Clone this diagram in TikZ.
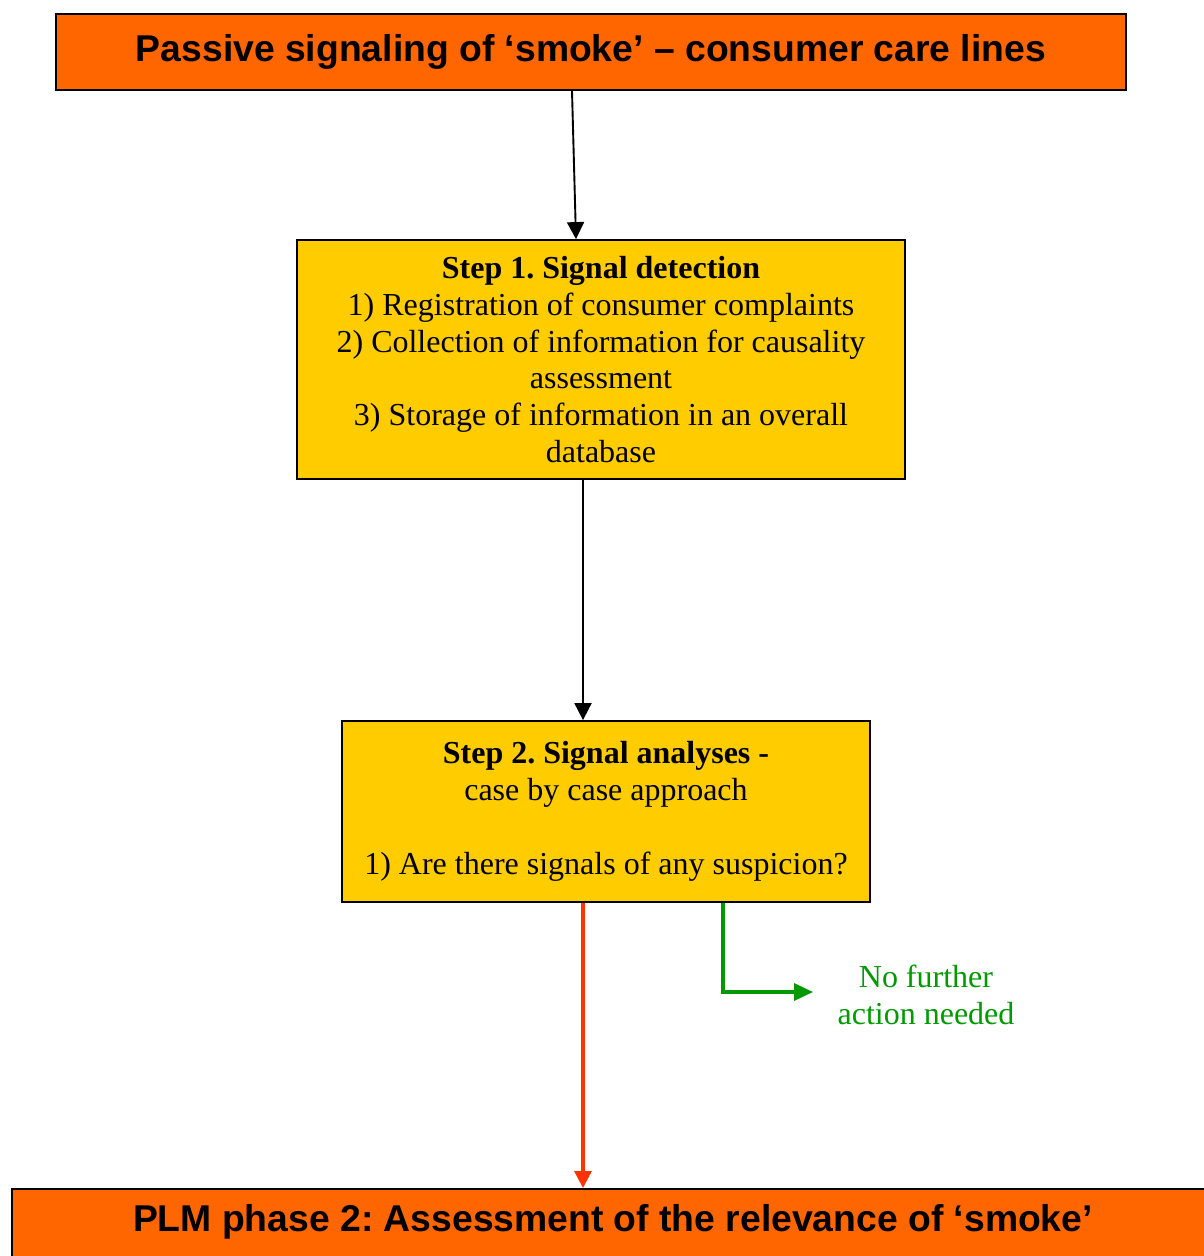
\documentclass[tikz,border=0pt]{standalone}
\usepackage{fontspec}
\setmainfont{Liberation Serif}
\newfontfamily\hdrfont{Liberation Sans}
\usetikzlibrary{arrows.meta}
\definecolor{hdrorange}{HTML}{FF6600}
\definecolor{stepyellow}{HTML}{FFCC00}
\definecolor{alertred}{HTML}{FF3300}
\definecolor{okgreen}{HTML}{009900}
\frenchspacing
\begin{document}
\begin{tikzpicture}[x=1pt,y=-1pt,
  header/.style={draw=black,line width=1.8pt,fill=hdrorange,inner sep=0pt,
    font=\hdrfont\bfseries\fontsize{37.3}{42}\selectfont},
  stepbox/.style={draw=black,line width=1.8pt,fill=stepyellow,inner sep=0pt,
    align=center,font=\fontsize{32}{36.8}\selectfont},
  link/.style={line width=1.9pt,-{Triangle[width=17pt,length=17pt]}},
  note/.style={align=center,text=okgreen,font=\fontsize{32}{36.5}\selectfont}]
\useasboundingbox (0,0) rectangle (1203,1256);

% header boxes
\node[header,minimum width=1070pt,minimum height=76pt] (top) at (591,52)
  {Passive signaling of ‘smoke’ – consumer care lines};
\node[header,minimum width=1240pt,minimum height=110pt,anchor=north west] (bot) at (11,1188) {};
\node[font=\hdrfont\bfseries\fontsize{37.3}{42}\selectfont] (bottxt) at (613,1222)
  {PLM phase 2: Assessment of the relevance of ‘smoke’};

% process steps
\node[stepbox,minimum width=608pt,minimum height=239pt] (s1) at (601,359.5)
  {\textbf{Step 1. Signal detection}\\
   1) Registration of consumer complaints\\
   2) Collection of information for causality\\
   assessment\\
   3) Storage of information in an overall\\
   database};
\node[stepbox,minimum width=528pt,minimum height=181pt] (s2) at (606,811.5)
  {\textbf{Step 2. Signal analyses -}\\
   case by case approach\\[36.8pt]
   1) Are there signals of any suspicion?};

% outcome without action
\node[note] (nf) at (926,995) {No further\\action needed};

% connectors
\draw[link,black] ([xshift=-19pt]top.south) -- ([xshift=-25pt]s1.north);
\draw[link,black] ([xshift=-18pt]s1.south) -- ([xshift=-23pt]s2.north);
\draw[link,alertred,line width=3.2pt] ([xshift=-23pt]s2.south) coordinate (r0) -- (r0 |- bot.north);
\draw[okgreen,line width=3.2pt,-{Triangle[width=17pt,length=19pt]}]
  ([xshift=117pt]s2.south) |- ([xshift=-21pt,yshift=3pt]nf.west);
\end{tikzpicture}
\end{document}
